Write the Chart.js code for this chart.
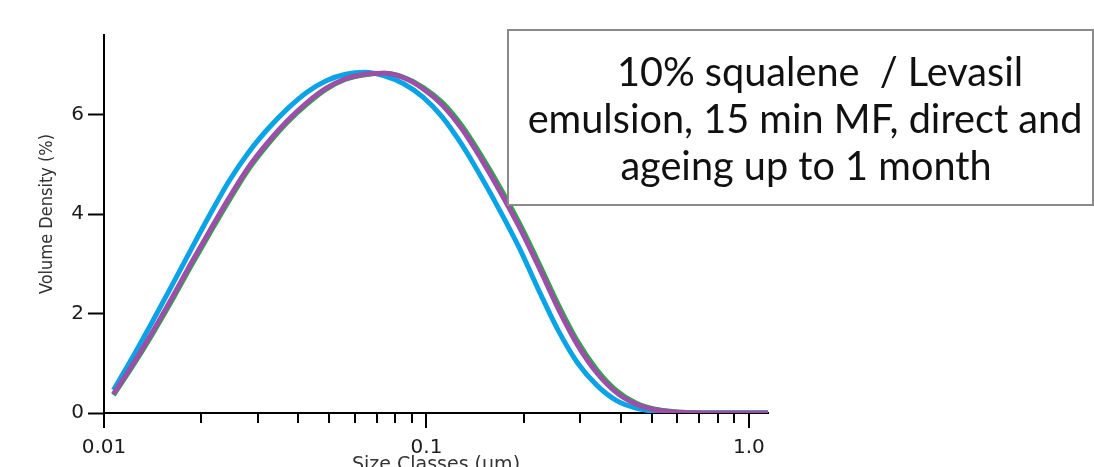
<!DOCTYPE html>
<html><head><meta charset="utf-8">
<script src="https://cdn.jsdelivr.net/npm/chart.js@4.4.0/dist/chart.umd.min.js"></script>
<style>html,body{margin:0;padding:0;background:#fff;}#wrap{width:1094px;height:467px;position:relative;}</style>
</head><body><div id="wrap"><canvas id="c" width="1094" height="467"></canvas></div>
<script>
// ---- data ----
const sizeClasses = [0.0107,0.01229,0.01411,0.01620,0.01859,0.02135,0.02451,0.02814,0.03231,0.03710,0.04260,0.04891,0.05615,0.06447,0.07403,0.08499,0.09758,0.1120,0.1286,0.1477,0.1696,0.1947,0.2236,0.2567,0.2947,0.3384,0.3885,0.4461,0.5121,0.5880,0.6751,0.7751,0.8900,1.0218,1.1733];
const blueSeries = [0.46,1.13,1.83,2.55,3.28,4.00,4.68,5.25,5.72,6.12,6.45,6.68,6.81,6.85,6.78,6.62,6.35,5.95,5.40,4.75,4.05,3.30,2.45,1.65,1.00,0.55,0.25,0.10,0.03,0.008,0,0,0,0,0];
const purpleSeries = [0.38,0.98,1.62,2.30,3.00,3.68,4.34,4.95,5.45,5.88,6.24,6.53,6.72,6.81,6.83,6.74,6.52,6.19,5.72,5.11,4.44,3.72,2.92,2.09,1.36,0.80,0.41,0.18,0.065,0.02,0.005,0,0,0,0];
const greenSeries = [0.36,0.95,1.58,2.25,2.95,3.63,4.29,4.91,5.41,5.85,6.21,6.51,6.71,6.80,6.83,6.75,6.55,6.24,5.78,5.18,4.52,3.80,3.00,2.17,1.43,0.86,0.45,0.20,0.075,0.025,0.006,0,0,0,0];
const xMajorTicks = [0.01, 0.1, 1];
const xTickLabels = ['0.01', '0.1', '1.0'];
const xMinorTicks = [0.02,0.03,0.04,0.05,0.06,0.07,0.08,0.09,0.2,0.3,0.4,0.5,0.6,0.7,0.8,0.9];
const yTickValues = [0, 2, 4, 6];
const boxLines = ['10% squalene  / Levasil', 'emulsion, 15 min MF, direct and', 'ageing up to 1 month'];
const xTitle = 'Size Classes (µm)';
const yTitle = 'Volume Density (%)';

const toPts = arr => sizeClasses.map((x, i) => ({x: x, y: arr[i]}));

const axisFont = {family: 'DejaVu Sans', size: 20};

const extras = {
  id: 'extras',
  afterDraw(chart) {
    const ctx = chart.ctx;
    const xs = chart.scales.x;
    const yb = chart.chartArea.bottom;
    ctx.save();
    ctx.strokeStyle = '#000';
    ctx.lineWidth = 2;
    ctx.beginPath();
    xMajorTicks.forEach(v => { const p = Math.round(xs.getPixelForValue(v)); ctx.moveTo(p, yb); ctx.lineTo(p, yb + 15); });
    xMinorTicks.forEach(v => { const p = Math.round(xs.getPixelForValue(v)); ctx.moveTo(p, yb); ctx.lineTo(p, yb + 10); });
    ctx.stroke();
    // y axis title
    ctx.save();
    ctx.translate(47, 214);
    ctx.rotate(-Math.PI / 2);
    ctx.font = '18px "DejaVu Sans Condensed"';
    ctx.fillStyle = '#333';
    ctx.textAlign = 'center';
    ctx.textBaseline = 'middle';
    ctx.fillText(yTitle, 0, 0);
    ctx.restore();
    // annotation box
    ctx.fillStyle = '#fff';
    ctx.fillRect(508, 30, 585, 175);
    ctx.strokeStyle = '#8a8a8a';
    ctx.lineWidth = 2;
    ctx.strokeRect(508, 30, 585, 175);
    ctx.font = '36px Lato';
    const w = ctx.measureText(boxLines[1]).width;
    const size = 36 * 555 / w;
    ctx.font = size.toFixed(2) + 'px Lato';
    ctx.fillStyle = '#111';
    ctx.textAlign = 'center';
    ctx.textBaseline = 'alphabetic';
    const cx = [820, 805, 806];
    const by = [86, 133, 180];
    boxLines.forEach((t, i) => ctx.fillText(t, cx[i], by[i]));
    ctx.restore();
  }
};

new Chart(document.getElementById('c'), {
  type: 'line',
  data: {
    datasets: [
      {label: 'purple', data: toPts(purpleSeries), borderColor: '#9b4fa6', borderWidth: 5, order: 1},
      {label: 'blue', data: toPts(blueSeries), borderColor: '#0aa3e6', borderWidth: 5, order: 2},
      {label: 'green', data: toPts(greenSeries), borderColor: '#2aa84a', borderWidth: 5, order: 3}
    ]
  },
  options: {
    responsive: false,
    animation: false,
    events: [],
    layout: {padding: {left: 0, right: 326, top: 35, bottom: 0}},
    elements: {point: {radius: 0}, line: {cubicInterpolationMode: 'monotone', borderCapStyle: 'butt', fill: false}},
    plugins: {legend: {display: false}, tooltip: {enabled: false}, title: {display: false}},
    scales: {
      x: {
        type: 'logarithmic',
        min: 0.01,
        max: 1.146,
        afterBuildTicks: s => { s.ticks = xMajorTicks.map(v => ({value: v, major: true})); },
        afterFit: s => { s.height = 54; },
        grid: {display: false},
        border: {display: true, color: '#000', width: 2},
        ticks: {
          autoSkip: false, maxRotation: 0, padding: 15, color: '#1a1a1a', font: axisFont,
          callback: (v, i) => xTickLabels[i]
        },
        title: {display: true, text: xTitle, color: '#333', font: {family: 'DejaVu Sans', size: 19, lineHeight: 0.5}, padding: {top: 0, bottom: -3}}
      },
      y: {
        min: 0,
        max: 7.6,
        afterBuildTicks: s => { s.ticks = yTickValues.map(v => ({value: v})); },
        afterFit: s => { s.width = 104; },
        grid: {display: true, drawOnChartArea: false, drawTicks: true, tickLength: 16, tickColor: '#000', tickWidth: 2},
        border: {display: true, color: '#000', width: 2},
        ticks: {padding: 4, color: '#1a1a1a', font: axisFont},
        title: {display: false}
      }
    }
  },
  plugins: [extras]
});
</script>
</body></html>
